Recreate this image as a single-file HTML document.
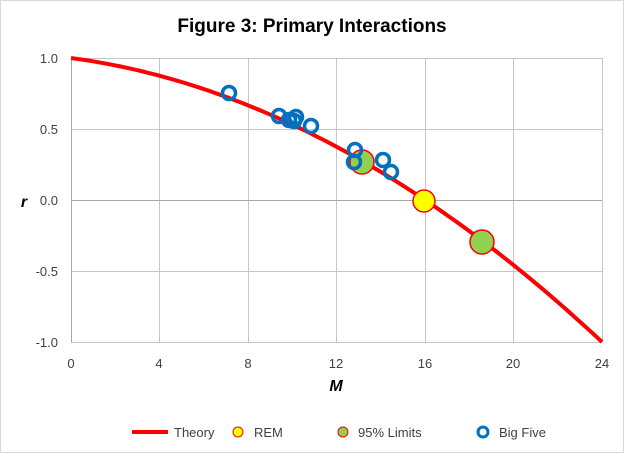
<!DOCTYPE html>
<html><head><style>
body{margin:0;background:#fff;}
svg{display:block;font-family:"Liberation Sans",sans-serif;}
</style></head><body>
<svg width="624" height="453" viewBox="0 0 624 453">
<rect x="0.5" y="0.5" width="623" height="452" fill="#fff" stroke="#d9d9d9"/>
<text x="312" y="32" text-anchor="middle" font-size="19" font-weight="bold" fill="#000">Figure 3: Primary Interactions</text>
<g stroke="#c6c6c6" stroke-width="1">
<line x1="71" y1="58.5" x2="602" y2="58.5"/>
<line x1="71" y1="129.5" x2="602" y2="129.5"/>
<line x1="71" y1="271.5" x2="602" y2="271.5"/>
<line x1="71" y1="342.5" x2="602" y2="342.5"/>
<line x1="159.5" y1="58" x2="159.5" y2="342"/>
<line x1="248.5" y1="58" x2="248.5" y2="342"/>
<line x1="336.5" y1="58" x2="336.5" y2="342"/>
<line x1="425.5" y1="58" x2="425.5" y2="342"/>
<line x1="513.5" y1="58" x2="513.5" y2="342"/>
<line x1="602.5" y1="58" x2="602.5" y2="342"/>
</g>
<line x1="71.5" y1="58" x2="71.5" y2="342" stroke="#a6a6a6"/>
<line x1="71" y1="200.5" x2="602" y2="200.5" stroke="#a6a6a6"/>
<g font-size="13" fill="#404040" text-anchor="end">
<text x="58" y="63">1.0</text><text x="58" y="134">0.5</text><text x="58" y="205">0.0</text><text x="58" y="276">-0.5</text><text x="58" y="347">-1.0</text>
</g>
<g font-size="13" fill="#404040" text-anchor="middle">
<text x="71" y="368">0</text><text x="159" y="368">4</text><text x="248" y="368">8</text><text x="336" y="368">12</text><text x="425" y="368">16</text><text x="513" y="368">20</text><text x="602" y="368">24</text>
</g>
<text x="336" y="391" text-anchor="middle" font-size="16" font-weight="bold" font-style="italic" fill="#000">M</text>
<text x="24" y="207" text-anchor="middle" font-size="16" font-weight="bold" font-style="italic" fill="#000">r</text>
<path id="c" fill="none" stroke="#ff0000" stroke-width="4" d="M71,58"/>
</svg>
<script>
var s=document.querySelector('svg'),p=document.getElementById('c');
var d='';for(var i=0;i<=96;i++){var M=i/4,r=1-0.0208333*M-0.00260417*M*M;var x=71+M*531/24,y=200-r*142;d+=(i?'L':'M')+x.toFixed(1)+','+y.toFixed(1);}
p.setAttribute('d',d);
var ns='http://www.w3.org/2000/svg';
function c(x,y,r,f,st,w){var e=document.createElementNS(ns,'circle');e.setAttribute('cx',x);e.setAttribute('cy',y);e.setAttribute('r',r);e.setAttribute('fill',f);e.setAttribute('stroke',st);e.setAttribute('stroke-width',w);s.appendChild(e);}
c(424,201,11,'#ffff00','#ff0000',1.5);
c(362,162,12,'#92d050','#ff0000',1.5);c(482,242,12,'#92d050','#ff0000',1.5);
[[229,93],[279,116],[289,120],[296,117],[294,121],[311,126],[355,150],[354,162],[383,160],[391,172]].forEach(function(q){c(q[0],q[1],6.5,'none','#0070c0',3.5);});
</script>
<svg width="624" height="30" style="position:absolute;left:0;top:417px" viewBox="0 417 624 30">
<line x1="132" y1="432" x2="168" y2="432" stroke="#ff0000" stroke-width="4"/>
<text x="174" y="437" font-size="13" fill="#404040">Theory</text>
<circle cx="238" cy="432" r="5" fill="#ffff00" stroke="#ff0000"/>
<text x="254" y="437" font-size="13" fill="#404040">REM</text>
<circle cx="343" cy="432" r="5" fill="#92d050" stroke="#ff0000"/>
<text x="358" y="437" font-size="13" fill="#404040">95% Limits</text>
<circle cx="483" cy="432" r="5" fill="none" stroke="#0070c0" stroke-width="3"/>
<text x="499" y="437" font-size="13" fill="#404040">Big Five</text>
</svg>
</body></html>
